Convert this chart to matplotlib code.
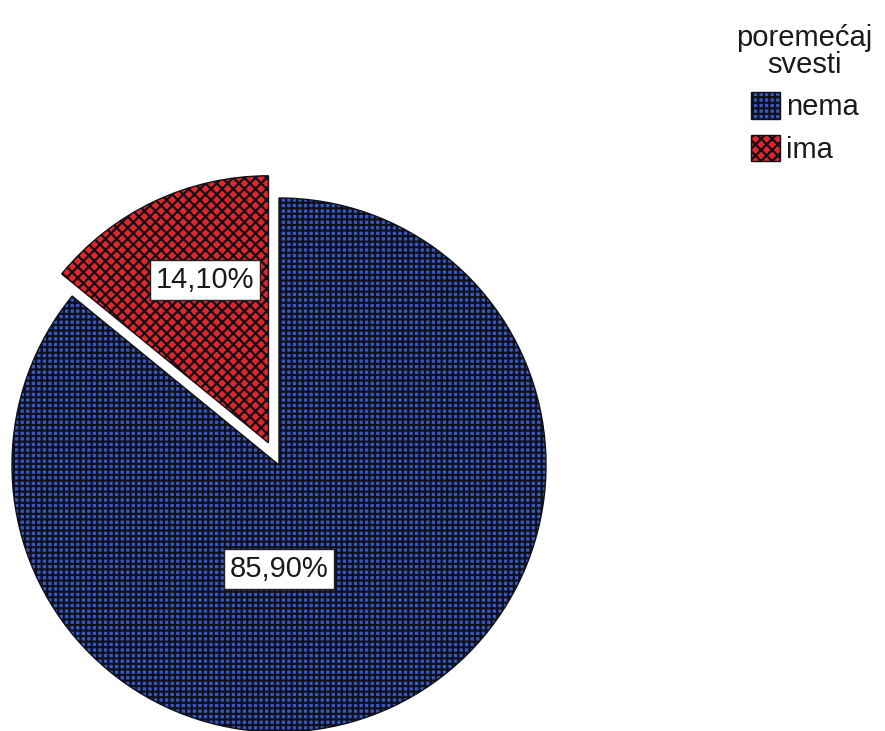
import matplotlib
matplotlib.use("Agg")
import matplotlib.pyplot as plt
import numpy as np

# ---------------------------------------------------------------------------
# Data
# ---------------------------------------------------------------------------
categories = ["nema", "ima"]
shares = [85.90, 14.10]
label_texts = ["85,90%", "14,10%"]
legend_title = "poremećaj\nsvesti"

colors = ["#3557c8", "#e0262a"]
hatches = ["+++", "xxx"]

plt.rcParams["font.family"] = ["Liberation Sans", "DejaVu Sans"]
plt.rcParams["hatch.linewidth"] = 1.6

W, H = 885, 731
fig = plt.figure(figsize=(W / 100, H / 100), dpi=100)
ax = fig.add_axes([0, 0, 1, 1])

cx, cy = 279, H - 465
radius = 267

# start at 12 o'clock; "ima" wedge goes counterclockwise, exploded
# (explode is in data units here, so scale by the radius)
wedges, _ = ax.pie(
    shares[::-1],
    colors=colors[::-1],
    explode=[0.092 * radius, 0],
    startangle=90,
    counterclock=True,
    center=(cx, cy),
    radius=radius,
    frame=True,
    wedgeprops=dict(edgecolor="#101018", linewidth=1.0),
)
wedges = wedges[::-1]
for w, h in zip(wedges, hatches):
    w.set_hatch(h)

ax.set_xlim(0, W)
ax.set_ylim(0, H)
ax.set_aspect("equal")
ax.axis("off")

# percentage labels
box = dict(boxstyle="square,pad=0.2", facecolor="white", edgecolor="#222222", linewidth=1.0)
# "nema" label sits straight below the centre
ax.text(cx, cy - 0.39 * radius, label_texts[0], ha="center", va="center",
        fontsize=21, color="#1a1a1a", bbox=box)
# "ima" label on the exploded wedge, a bit right of its bisector
red = wedges[1]
mid = np.deg2rad((red.theta1 + red.theta2) / 2 - 4)
rx, ry = red.center
ax.text(rx + 0.655 * radius * np.cos(mid), ry + 0.655 * radius * np.sin(mid),
        label_texts[1], ha="center", va="center",
        fontsize=21, color="#1a1a1a", bbox=box)

leg = ax.legend(
    wedges, categories,
    title=legend_title,
    loc="upper left",
    bbox_to_anchor=(716 / W, 1 - 4 / H),
    frameon=False,
    fontsize=21,
    title_fontsize=21,
    handlelength=1.0,
    handleheight=1.0,
    handletextpad=0.2,
    labelspacing=0.45,
    borderpad=0.2,
)
title = leg.get_title()
title.set_multialignment("center")
title.set_linespacing(0.95)
title.set_color("#1a1a1a")
for t in leg.get_texts():
    t.set_color("#1a1a1a")

fig.savefig("out.png", dpi=100)
